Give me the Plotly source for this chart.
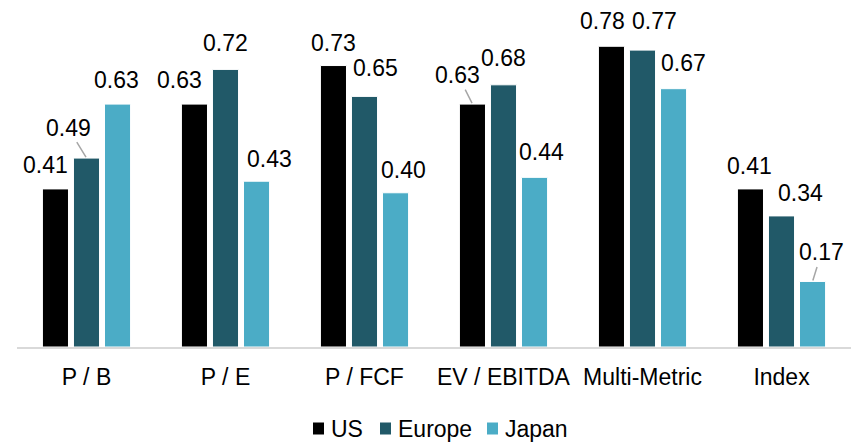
import plotly.graph_objects as go

categories = ["P / B", "P / E", "P / FCF", "EV / EBITDA", "Multi-Metric", "Index"]
series_names = ["US", "Europe", "Japan"]
us = [0.41, 0.63, 0.73, 0.63, 0.78, 0.41]
europe = [0.49, 0.72, 0.65, 0.68, 0.77, 0.34]
japan = [0.63, 0.43, 0.40, 0.44, 0.67, 0.17]

colors = ["#000000", "#215968", "#4BACC6"]
FONT = "Liberation Sans, Arial, sans-serif"
FS = 23

# label placement (pixel offsets of label centre from bar-top centre) and leader-line flags
label_dx = [
    [-9.5, -14.5, 0, -14.5, -9, -1],
    [-18.5, 0, 10.5, 0, 11.5, 18.5],
    [-1, 12.5, 7.5, 7, 10, 9],
]
label_dy = [
    [-24, -24, -23, -29, -25, -23],
    [-30.5, -26, -28, -26.5, -29, -22.5],
    [-24, -22, -23, -25.5, -25.5, -29],
]
leader = [
    [False, False, False, True, False, False],
    [True, False, False, False, False, False],
    [False, False, False, False, False, True],
]

# legend layout (pixel positions of legend keys, drawn as a compact Excel-style legend)
W, H = 852, 442
ML, MR, MT, MB = 17, 1, 0, 95
legend_key_left = [313, 380, 487]
legend_key_w, legend_key_h = 11, 12
legend_text_gap = 6
legend_cy = 428.5

bargap = 0.33
bargroupgap = 0.16
xs = list(range(len(categories)))

fig = go.Figure()
values = [us, europe, japan]
for name, vals, col in zip(series_names, values, colors):
    fig.add_trace(go.Bar(
        x=xs, y=vals, name=name,
        marker=dict(color=col, line=dict(color="white", width=1)),
        hoverinfo="skip", showlegend=False,
    ))

slot = (1 - bargap) / len(series_names)
annotations = []
for k, vals in enumerate(values):
    for i, v in enumerate(vals):
        xpos = i + (k - (len(series_names) - 1) / 2) * slot
        if leader[k][i]:
            annotations.append(dict(
                x=xpos, y=v, xref="x", yref="y",
                text=f"{v:.2f}", showarrow=True,
                ax=label_dx[k][i], ay=label_dy[k][i],
                arrowhead=0, arrowwidth=1.5, arrowcolor="#A6A6A6",
                standoff=1, startstandoff=0,
                font=dict(family=FONT, size=FS, color="#000000"),
            ))
        else:
            annotations.append(dict(
                x=xpos, y=v, xref="x", yref="y",
                text=f"{v:.2f}", showarrow=False,
                xanchor="center", yanchor="middle",
                xshift=label_dx[k][i], yshift=-label_dy[k][i],
                font=dict(family=FONT, size=FS, color="#000000"),
            ))

# compact legend
pw = W - ML - MR
ph = H - MT - MB
def px_to_paper_x(px):
    return (px - ML) / pw
def px_to_paper_y(py):
    return (H - MB - py) / ph

shapes = []
for name, col, left in zip(series_names, colors, legend_key_left):
    shapes.append(dict(
        type="rect", xref="paper", yref="paper",
        x0=px_to_paper_x(left), x1=px_to_paper_x(left + legend_key_w),
        y0=px_to_paper_y(legend_cy + legend_key_h / 2), y1=px_to_paper_y(legend_cy - legend_key_h / 2),
        fillcolor=col, line=dict(width=0),
    ))
    annotations.append(dict(
        xref="paper", yref="paper",
        x=px_to_paper_x(left + legend_key_w + legend_text_gap - 1), y=px_to_paper_y(legend_cy),
        xanchor="left", yanchor="middle", text=name, showarrow=False,
        font=dict(family=FONT, size=FS, color="#000000"),
    ))

fig.update_layout(
    width=W, height=H,
    margin=dict(l=ML, r=MR, t=MT, b=MB),
    paper_bgcolor="white", plot_bgcolor="white",
    barmode="group", bargap=bargap, bargroupgap=bargroupgap,
    font=dict(family=FONT, size=FS, color="#000000"),
    showlegend=False,
    annotations=annotations,
    shapes=shapes,
    xaxis=dict(
        range=[-0.5, len(categories) - 0.5],
        tickmode="array", tickvals=xs, ticktext=categories,
        showline=True, linecolor="#D9D9D9", linewidth=2,
        showgrid=False, zeroline=False, ticks="",
        ticklabelstandoff=8,
        tickfont=dict(family=FONT, size=FS, color="#000000"),
        fixedrange=True,
    ),
    yaxis=dict(range=[0, 0.9], visible=False, showgrid=False, zeroline=False, fixedrange=True),
)

fig.write_html("out.html", config={"displayModeBar": False})
